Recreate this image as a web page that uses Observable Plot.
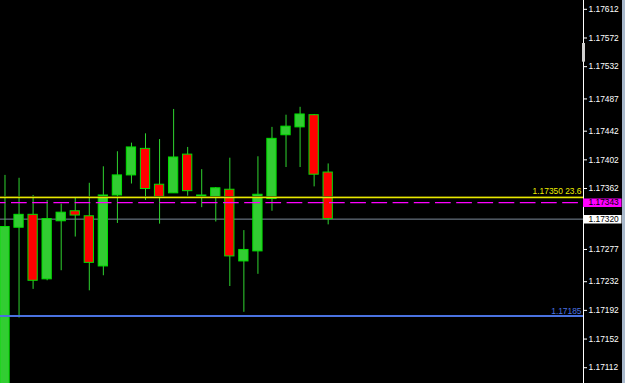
<!DOCTYPE html>
<html><head><meta charset="utf-8">
<script src="https://cdn.jsdelivr.net/npm/d3@7"></script>
<script src="https://cdn.jsdelivr.net/npm/@observablehq/plot@0.6"></script>
<style>
html,body{margin:0;padding:0;background:#000;overflow:hidden}
#wrap{position:relative;width:625px;height:383px;overflow:hidden;background:#000}
#edge{position:absolute;right:0;top:0;width:3px;height:383px;background:#a9b9cc}
</style></head><body>
<div id="wrap"><div id="chart"></div><div id="edge"></div></div>
<script>
// ---- data ----
const opens  = [1.17067,1.17308,1.17326,1.17236,1.17317,1.17331,1.17324,1.17254,1.17353,1.17381,1.17418,1.17368,1.17356,1.17410,1.17351,1.17351,1.17361,1.17261,1.17275,1.17348,1.17437,1.17448,1.17465,1.17385];
const highs  = [1.17381,1.17377,1.17353,1.17346,1.17341,1.17350,1.17370,1.17393,1.17414,1.17426,1.17439,1.17431,1.17473,1.17420,1.17389,1.17364,1.17405,1.17304,1.17407,1.17448,1.17465,1.17476,1.17466,1.17397];
const lows   = [1.17060,1.17182,1.17222,1.17234,1.17248,1.17295,1.17220,1.17241,1.17314,1.17369,1.17346,1.17313,1.17356,1.17352,1.17336,1.17316,1.17226,1.17190,1.17243,1.17331,1.17392,1.17392,1.17365,1.17312];
const closes = [1.17309,1.17326,1.17234,1.17320,1.17329,1.17325,1.17259,1.17353,1.17381,1.17420,1.17362,1.17351,1.17406,1.17359,1.17353,1.17363,1.17268,1.17277,1.17354,1.17432,1.17449,1.17466,1.17382,1.17320];
const tickValues = [1.17612,1.17572,1.17532,1.17487,1.17442,1.17402,1.17362,1.17277,1.17232,1.17192,1.17152,1.17112];
const fibPrices  = [1.17350];
const fibLabels  = ["1.17350 23.6"];
const dashPrices = [1.17343];
const bidPrices  = [1.17320];
const bluePrices = [1.17185];
const blueLabels = ["1.17185"];
const shiftMarker = [1.17565, 1.17539];

// ---- layout ----
const W = 625, H = 383, gutter = 42;
const yDomain = [1.170907, 1.176250];
const xDomain = [-0.32, 41.17];
const pxPerIdx = (W - gutter) / (xDomain[1] - xDomain[0]);
const halfBody = 0.33;
const boxW = 38.5 / pxPerIdx;

const candles = opens.map((o, i) => ({i, o, h: highs[i], l: lows[i], c: closes[i], up: closes[i] >= o}));
const fib = fibPrices.map((p, k) => ({p, t: fibLabels[k]}));
const blue = bluePrices.map((p, k) => ({p, t: blueLabels[k]}));
const fmt = d3.format(".5f");

const chart = Plot.plot({
  width: W, height: H,
  marginLeft: 0, marginRight: gutter, marginTop: 0, marginBottom: 0,
  x: {domain: xDomain, axis: null},
  y: {domain: yDomain, axis: null},
  style: {background: "#000", color: "#fff", fontFamily: "'Liberation Sans', Arial, sans-serif", fontSize: "8.4px"},
  marks: [
    Plot.ruleY(bidPrices, {stroke: "#7c8a99", strokeWidth: 1}),
    Plot.ruleX(candles, {x: "i", y1: "l", y2: "h", stroke: "#2fd42f", strokeWidth: 1}),
    Plot.rect(candles, {
      x1: d => d.i - halfBody, x2: d => d.i + halfBody, y1: "o", y2: "c",
      fill: d => d.up ? "#32cd32" : "#ff0000", stroke: "#00e000", strokeWidth: 1
    }),
    Plot.ruleY(fibPrices, {stroke: "#6b6b00", strokeWidth: 1, dy: -1}),
    Plot.ruleY(fibPrices, {stroke: "#e8e800", strokeWidth: 1.2}),
    Plot.ruleY(dashPrices, {stroke: "#ff00ff", strokeWidth: 1.3, strokeDasharray: "15.7,5.5", strokeDashoffset: 10.2}),
    Plot.ruleY(bluePrices, {stroke: "#4a72e0", strokeWidth: 2}),
    Plot.text(fib, {y: "p", text: "t", frameAnchor: "right", textAnchor: "end", dx: -2, dy: -6, fill: "#eeee00"}),
    Plot.text(blue, {y: "p", text: "t", frameAnchor: "right", textAnchor: "end", dx: -2, dy: -5, fill: "#4a72e0"}),
    Plot.axisY({anchor: "right", ticks: tickValues, tickFormat: fmt, tickSize: 3, tickPadding: 2, stroke: "#fff", fill: "#fff", dy: -0.5}),
    Plot.ruleX([xDomain[1]], {stroke: "#fff", strokeWidth: 1}),
    Plot.ruleX([xDomain[1]], {y1: shiftMarker[0], y2: shiftMarker[1], stroke: "#d0d0d0", strokeWidth: 3}),
    Plot.ruleY(dashPrices, {x1: xDomain[1], x2: xDomain[1] + boxW, stroke: "#ff00ff", strokeWidth: 8.5}),
    Plot.ruleY(bidPrices, {x1: xDomain[1], x2: xDomain[1] + boxW, stroke: "#ffffff", strokeWidth: 8.5}),
    Plot.text(dashPrices, {y: d => d, text: d => fmt(d), frameAnchor: "right", textAnchor: "start", dx: 5, fill: "#000"}),
    Plot.text(bidPrices, {y: d => d, text: d => fmt(d), frameAnchor: "right", textAnchor: "start", dx: 5, fill: "#000"})
  ]
});
document.getElementById("chart").append(chart);
</script>
</body></html>
